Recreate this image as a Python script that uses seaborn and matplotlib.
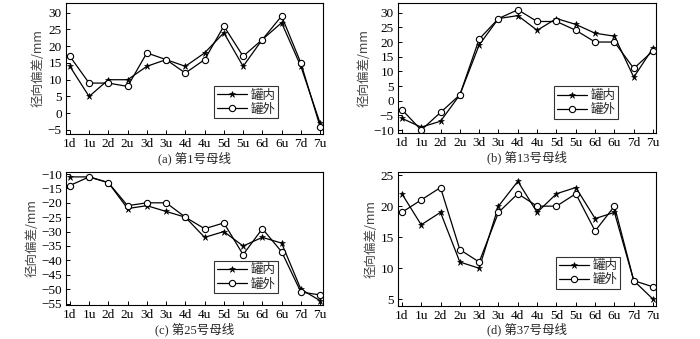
import matplotlib
matplotlib.use("Agg")
import matplotlib.pyplot as plt
import seaborn as sns
import pandas as pd
import numpy as np

sns.set_theme(style="white")
plt.rcParams['font.family'] = ['Liberation Serif', 'Noto Sans CJK SC']
plt.rcParams['axes.unicode_minus'] = False

positions = ["1d", "1u", "2d", "2u", "3d", "3u", "4d", "4u", "5d", "5u", "6d", "6u", "7d", "7u"]

a_in = [14, 5, 10, 10, 14, 16, 14, 18, 24, 14, 22, 27, 14, -3]
a_out = [17, 9, 9, 8, 18, 16, 12, 16, 26, 17, 22, 29, 15, -4]
b_in = [-6, -9, -7, 2, 19, 28, 29, 24, 28, 26, 23, 22, 8, 18]
b_out = [-3, -10, -4, 2, 21, 28, 31, 27, 27, 24, 20, 20, 11, 17]
c_in = [-11, -11, -13, -22, -21, -23, -25, -32, -30, -35, -32, -34, -50, -54]
c_out = [-14, -11, -13, -21, -20, -20, -25, -29, -27, -38, -29, -37, -51, -52]
d_in = [22, 17, 19, 11, 10, 20, 24, 19, 22, 23, 18, 19, 8, 5]
d_out = [19, 21, 23, 13, 11, 19, 22, 20, 20, 22, 16, 20, 8, 7]

series_names = ["罐内", "罐外"]
captions = ["(a) 第1号母线", "(b) 第13号母线", "(c) 第25号母线", "(d) 第37号母线"]
yticks = [np.arange(-5, 31, 5), np.arange(-10, 31, 5), np.arange(-55, -9, 5), np.arange(5, 26, 5)]
ylims = [(-6.2, 32.9), (-11, 33.3), (-55.5, -9.3), (4, 25.5)]

panels = [(a_in, a_out), (b_in, b_out), (c_in, c_out), (d_in, d_out)]

W, H = 700, 339
rects = [(66, 3, 323, 134), (398, 3, 656, 133), (66, 172, 323, 305), (398, 172, 656, 305.5)]
legend_anchor = [(0.825, 0.12), (0.853, 0.11), (0.825, 0.09), (0.86, 0.125)]

fig = plt.figure(figsize=(7, 3.39), dpi=100)
for i, (ins, outs) in enumerate(panels):
    l, t, r, b = rects[i]
    ax = fig.add_axes([l / W, 1 - b / H, (r - l) / W, (b - t) / H])
    df = pd.DataFrame({
        "pos": list(range(len(positions))) * 2,
        "val": list(ins) + list(outs),
        "series": [series_names[0]] * len(ins) + [series_names[1]] * len(outs),
    })
    sub_in = df[df.series == series_names[0]]
    sub_out = df[df.series == series_names[1]]
    sns.lineplot(data=sub_in, x="pos", y="val", ax=ax, color="black", lw=0.9,
                 marker="*", markersize=5, markerfacecolor="black", markeredgecolor="black",
                 markeredgewidth=0.4, label=series_names[0])
    sns.lineplot(data=sub_out, x="pos", y="val", ax=ax, color="black", lw=0.9,
                 marker="o", markersize=4.5, markerfacecolor="white", markeredgecolor="black",
                 markeredgewidth=0.8, label=series_names[1])
    ax.set_xlim(-0.2, 13.15)
    ax.set_ylim(*ylims[i])
    ax.set_xticks(range(len(positions)))
    ax.set_xticklabels(positions, fontsize=9.5)
    ax.set_yticks(yticks[i])
    ax.set_yticklabels([str(v) if v >= 0 else "−" + str(-v) for v in yticks[i]], fontsize=9.5)
    ax.tick_params(direction="in", length=3, width=0.7, colors="black", pad=3,
                   top=False, right=False, left=True, bottom=True)
    for s in ax.spines.values():
        s.set_color("black")
        s.set_linewidth(0.8)
    ax.set_xlabel(captions[i], fontsize=9, labelpad=1,
                  family=['Liberation Serif', 'Noto Sans CJK SC'])
    ax.set_ylabel("径向偏差/mm", fontsize=9, color="#444444", labelpad=2,
                  family=['Noto Sans CJK SC', 'Liberation Serif'])
    leg = ax.legend(loc="lower right", bbox_to_anchor=legend_anchor[i], frameon=True,
                    fancybox=False, edgecolor="black", handlelength=2.4,
                    borderpad=0.2, labelspacing=0.1, handletextpad=0.3, borderaxespad=0,
                    prop={'family': ['Noto Sans CJK SC'], 'size': 9})
    leg.get_frame().set_linewidth(0.8)

fig.savefig("out.png", dpi=100)
